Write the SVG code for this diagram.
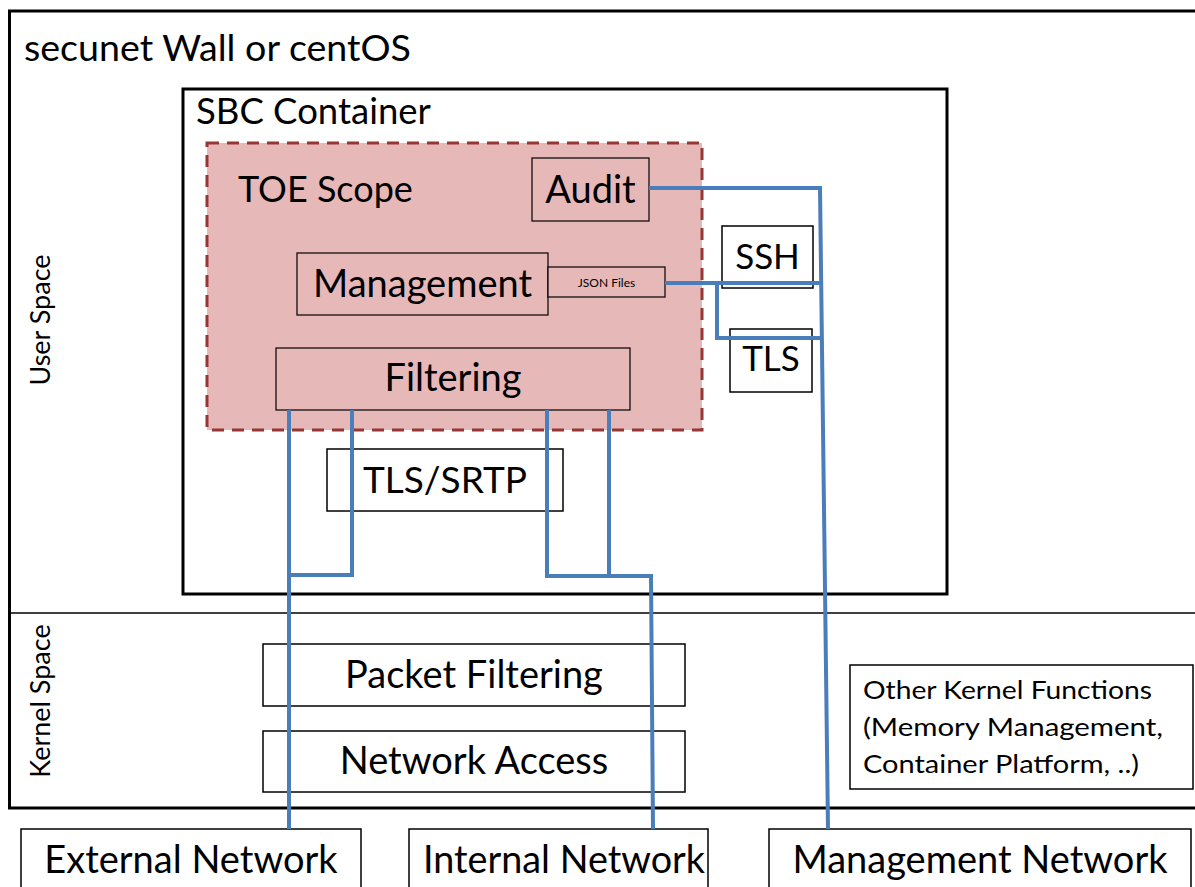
<svg xmlns="http://www.w3.org/2000/svg" width="1195" height="887" viewBox="0 0 1195 887">
<style>
text{font-family:Lato,"Liberation Sans",sans-serif;fill:#000}
.box{fill:#fff;stroke:#000;stroke-width:1.5}
.pbox{fill:#E6B9B8;stroke:#000;stroke-width:1.2}
.big{font-size:38px}
.sm{font-size:25px}
.side{font-size:27px}
.c{text-anchor:middle}
.conn{fill:none;stroke:#4A7EBB;stroke-width:4}
</style>
<rect width="1195" height="887" fill="#fff"/>
<g id="os">
<path d="M1195,11 H9.5 V808 H1195" fill="none" stroke="#000" stroke-width="3"/>
<line x1="9.5" y1="613" x2="1195" y2="613" stroke="#000" stroke-width="1.3"/>
<text x="24" y="61" style="font-size:37.6px">secunet Wall or centOS</text>
<text transform="translate(50,320) rotate(-90)" class="c side">User Space</text>
<text transform="translate(50,701) rotate(-90)" class="c side">Kernel Space</text>
</g>
<g id="sbc">
<rect x="183" y="89" width="764" height="505" fill="none" stroke="#000" stroke-width="3"/>
<text x="196" y="124" style="font-size:36.5px">SBC Container</text>
</g>
<g id="toe">
<rect x="207" y="143" width="495" height="287" fill="#E6B9B8" stroke="#953735" stroke-width="3" stroke-dasharray="12,8"/>
<text x="238" y="202" style="font-size:36px">TOE Scope</text>
</g>
<g id="audit">
<rect x="532" y="158" width="117" height="63" class="pbox"/>
<text x="590.5" y="203" class="big c">Audit</text>
</g>
<g id="management">
<rect x="297" y="253" width="251" height="62" class="pbox"/>
<text x="422.5" y="297" class="big c">Management</text>
</g>
<g id="json">
<rect x="548" y="267" width="117" height="30" class="pbox"/>
<text x="606.5" y="287" class="c" style="font-size:12px">JSON Files</text>
</g>
<g id="filtering">
<rect x="276" y="348" width="354" height="62" class="pbox"/>
<text x="453" y="391" class="big c">Filtering</text>
</g>
<g id="ssh">
<rect x="722" y="226" width="91" height="62" class="box"/>
<text x="767.5" y="269" class="c" style="font-size:35px">SSH</text>
</g>
<g id="tls">
<rect x="730" y="329" width="82" height="63" class="box"/>
<text x="771" y="371" class="c" style="font-size:35px">TLS</text>
</g>
<g id="tlssrtp">
<rect x="327" y="449" width="236" height="62" class="box"/>
<text x="445" y="493" class="c" style="font-size:37px">TLS/SRTP</text>
</g>
<g id="packetfiltering">
<rect x="263" y="644" width="422" height="62" class="box"/>
<text x="474" y="688" class="big c">Packet Filtering</text>
</g>
<g id="networkaccess">
<rect x="263" y="731" width="422" height="61" class="box"/>
<text x="474" y="774" class="big c">Network Access</text>
</g>
<g id="otherkernel">
<rect x="850" y="665" width="343" height="124" class="box"/>
<text x="863" y="699" class="sm" textLength="289" lengthAdjust="spacingAndGlyphs">Other Kernel Functions</text>
<text x="863" y="736" class="sm" textLength="300" lengthAdjust="spacingAndGlyphs">(Memory Management,</text>
<text x="863" y="773" class="sm" textLength="276" lengthAdjust="spacingAndGlyphs">Container Platform, ..)</text>
</g>
<g id="external">
<rect x="21" y="829" width="340" height="70" class="box"/>
<text x="191" y="873" class="big c">External Network</text>
</g>
<g id="internal">
<rect x="409" y="829" width="299" height="70" class="box"/>
<text x="564" y="873" class="big c" textLength="282" lengthAdjust="spacingAndGlyphs">Internal Network</text>
</g>
<g id="mgmtnet">
<rect x="769" y="829" width="422" height="70" class="box"/>
<text x="980" y="873" class="big c">Management Network</text>
</g>
<g id="connectors">
<path class="conn" d="M649,188 H820 L828,829"/>
<path class="conn" d="M665,283 H820"/>
<path class="conn" d="M717,283 V338 H820"/>
<path class="conn" d="M289,410 V829"/>
<path class="conn" d="M352,410 V575 H289"/>
<path class="conn" d="M547,410 V576 H651 L653,829"/>
<path class="conn" d="M609,410 V576"/>
</g>
</svg>
